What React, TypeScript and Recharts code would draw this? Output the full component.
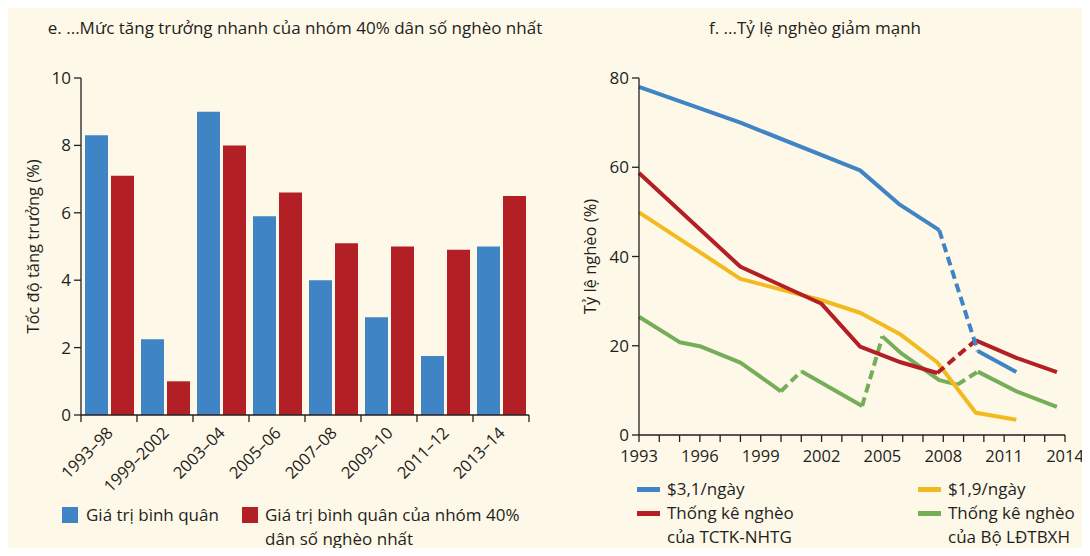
import { BarChart, Bar, XAxis, YAxis, LineChart, Line } from 'recharts'

// --- panel e: growth by period ---
const periods = ['1993–98', '1999–2002', '2003–04', '2005–06', '2007–08', '2009–10', '2011–12', '2013–14']
const avgGrowth = [8.3, 2.25, 9.0, 5.9, 4.0, 2.9, 1.75, 5.0]
const bottom40Growth = [7.1, 1.0, 8.0, 6.6, 5.1, 5.0, 4.9, 6.5]
const growthTicks = [0, 2, 4, 6, 8, 10]

// --- panel f: poverty rate lines, split into solid / dashed pieces ---
const blueA = [{ x: 1993, y: 78 }, { x: 1998, y: 70 }, { x: 2003.9, y: 59.3 }, { x: 2005.8, y: 51.8 }, { x: 2007.8, y: 45.9 }]
const blueGap = [{ x: 2007.8, y: 45.9 }, { x: 2009.7, y: 18.8 }]
const blueB = [{ x: 2009.7, y: 18.8 }, { x: 2011.6, y: 14.1 }]

const redA = [{ x: 1993, y: 58.7 }, { x: 1998, y: 37.7 }, { x: 2002, y: 29.4 }, { x: 2003.9, y: 19.8 }, { x: 2005.9, y: 16.3 }, { x: 2007.7, y: 13.9 }]
const redGap = [{ x: 2007.7, y: 13.9 }, { x: 2009.6, y: 21.2 }]
const redB = [{ x: 2009.6, y: 21.2 }, { x: 2011.6, y: 17.3 }, { x: 2013.6, y: 14.1 }]

const yellowA = [{ x: 1993, y: 49.9 }, { x: 1998, y: 35 }, { x: 2002, y: 30.2 }, { x: 2003.9, y: 27.4 }, { x: 2005.9, y: 22.5 }, { x: 2007.7, y: 16.3 }, { x: 2009.6, y: 5.0 }, { x: 2011.6, y: 3.4 }]

const greenA = [{ x: 1993, y: 26.5 }, { x: 1995, y: 20.8 }, { x: 1996, y: 19.9 }, { x: 1998, y: 16.2 }, { x: 2000, y: 9.8 }]
const greenGap1 = [{ x: 2000, y: 9.8 }, { x: 2001, y: 14.3 }]
const greenB = [{ x: 2001, y: 14.3 }, { x: 2004, y: 6.5 }]
const greenGap2 = [{ x: 2004, y: 6.5 }, { x: 2005, y: 22.1 }]
const greenC = [{ x: 2005, y: 22.1 }, { x: 2005.9, y: 18.4 }, { x: 2007.8, y: 12.3 }, { x: 2008.7, y: 11.3 }]
const greenGap3 = [{ x: 2008.7, y: 11.3 }, { x: 2009.7, y: 14.2 }]
const greenD = [{ x: 2009.7, y: 14.2 }, { x: 2011.6, y: 9.8 }, { x: 2013.6, y: 6.3 }]

const yearTicks = [1993, 1994, 1995, 1996, 1997, 1998, 1999, 2000, 2001, 2002, 2003, 2004, 2005, 2006, 2007, 2008, 2009, 2010, 2011, 2012, 2013, 2014]
const povertyTicks = [0, 20, 40, 60, 80]

const BLUE = '#3f84c5'
const RED = '#b21f25'
const YELLOW = '#f3ba1f'
const GREEN = '#76ad58'
const INK = '#231f20'
const BG = '#fef8e9'
const FONT = '"Open Sans", sans-serif'

const barData = periods.map((p, i) => ({ period: p, avg: avgGrowth[i], b40: bottom40Growth[i] }))

const lineSeries = [
  { name: '$3,1/ngày', color: BLUE },
  { name: '$1,9/ngày', color: YELLOW },
  { name: 'Thống kê nghèo\ncủa TCTK-NHTG', color: RED },
  { name: 'Thống kê nghèo\ncủa Bộ LĐTBXH', color: GREEN },
]

const BAR_PLOT_W = 448
const BAND = BAR_PLOT_W / periods.length

function PeriodTick(props: any) {
  const { x, y, payload, index } = props
  const half = BAND / 2
  const ax = x + 5
  const ay = y + 19
  return (
    <g>
      <line x1={x - half} x2={x - half} y1={y} y2={y + 7} stroke={INK} strokeWidth={1.3} />
      {index === periods.length - 1 && <line x1={x + half} x2={x + half} y1={y} y2={y + 7} stroke={INK} strokeWidth={1.3} />}
      <text x={ax} y={ay} textAnchor="end" fill={INK} fontSize={16.5} fontFamily={FONT} transform={`rotate(-45, ${ax}, ${ay})`}>
        {payload.value}
      </text>
    </g>
  )
}

const axisTick = { fill: INK, fontSize: 17, fontFamily: FONT }

function Swatch({ color, line }: { color: string; line?: boolean }) {
  return line
    ? <span style={{ display: 'inline-block', width: 23, height: 5, background: color, marginTop: 10, flexShrink: 0 }} />
    : <span style={{ display: 'inline-block', width: 16, height: 16, background: color, marginTop: 4, flexShrink: 0 }} />
}

export default function App() {
  const text = { position: 'absolute' as const, fontFamily: FONT, color: INK, fontSize: 17, lineHeight: '23.5px', whiteSpace: 'pre' as const }
  return (
    <div style={{ position: 'relative', width: 1090, height: 556, background: '#fff', margin: -8, overflow: 'hidden' }}>
      <div style={{ position: 'absolute', left: 5, top: 4, right: 0, bottom: 0, background: BG }} />

      <div style={{ ...text, left: 0, width: 590, top: 16, textAlign: 'center' }}>e. ...Mức tăng trưởng nhanh của nhóm 40% dân số nghèo nhất</div>
      <div style={{ ...text, left: 545, width: 540, top: 16, textAlign: 'center' }}>f. ...Tỷ lệ nghèo giảm mạnh</div>

      <div style={{ position: 'absolute', left: 0, top: 0 }}>
        <BarChart width={545} height={556} data={barData} margin={{ top: 78, right: 16, bottom: 71, left: 31 }} barCategoryGap={4} barGap={3}>
          <YAxis
            domain={[0, 10]}
            ticks={growthTicks}
            width={50}
            tick={axisTick}
            tickSize={7}
            tickMargin={3}
            stroke={INK}
            strokeWidth={1.3}
            label={{ value: 'Tốc độ tăng trưởng (%)', angle: -90, position: 'insideLeft', offset: 2, style: { textAnchor: 'middle', fill: INK, fontSize: 16.5, fontFamily: FONT } }}
          />
          <XAxis dataKey="period" height={70} interval={0} tickLine={false} tickSize={0} tickMargin={0} tick={<PeriodTick />} stroke={INK} strokeWidth={1.3} />
          <Bar dataKey="avg" fill={BLUE} isAnimationActive={false} />
          <Bar dataKey="b40" fill={RED} isAnimationActive={false} />
        </BarChart>
      </div>

      <div style={{ position: 'absolute', left: 545, top: 0 }}>
        <LineChart width={545} height={556} margin={{ top: 78, right: 25, bottom: 91, left: 44 }} style={{ overflow: 'visible' }}>
          <XAxis
            dataKey="x"
            type="number"
            domain={[1993, 2014]}
            ticks={yearTicks}
            interval={0}
            tickFormatter={(v: number) => ((v - 1993) % 3 === 0 ? String(v) : '')}
            height={30}
            tick={{ ...axisTick, fontSize: 16.5 }}
            tickSize={7}
            tickMargin={8}
            stroke={INK}
            strokeWidth={1.3}
          />
          <YAxis
            domain={[0, 80]}
            ticks={povertyTicks}
            width={50}
            tick={axisTick}
            tickSize={7}
            tickMargin={3}
            stroke={INK}
            strokeWidth={1.3}
            label={{ value: 'Tỷ lệ nghèo (%)', angle: -90, position: 'insideLeft', offset: 1, style: { textAnchor: 'middle', fill: INK, fontSize: 16.5, fontFamily: FONT } }}
          />
          {[
            { d: greenA, c: GREEN }, { d: greenGap1, c: GREEN, dash: true }, { d: greenB, c: GREEN }, { d: greenGap2, c: GREEN, dash: true },
            { d: greenC, c: GREEN }, { d: greenGap3, c: GREEN, dash: true }, { d: greenD, c: GREEN },
            { d: yellowA, c: YELLOW },
            { d: redA, c: RED }, { d: redGap, c: RED, dash: true }, { d: redB, c: RED },
            { d: blueA, c: BLUE }, { d: blueGap, c: BLUE, dash: true }, { d: blueB, c: BLUE },
          ].map((s, i) => (
            <Line
              key={i}
              data={s.d}
              dataKey="y"
              type="linear"
              stroke={s.c}
              strokeWidth={4}
              strokeDasharray={s.dash ? '9 5' : undefined}
              strokeLinejoin="round"
              dot={false}
              activeDot={false}
              isAnimationActive={false}
            />
          ))}
        </LineChart>
      </div>

      {/* legend e */}
      <div style={{ ...text, left: 62, top: 503, display: 'flex', gap: 8 }}>
        <Swatch color={BLUE} />
        <span>Giá trị bình quân</span>
      </div>
      <div style={{ ...text, left: 242, top: 503, display: 'flex', gap: 7 }}>
        <Swatch color={RED} />
        <span>{'Giá trị bình quân của nhóm 40%\ndân số nghèo nhất'}</span>
      </div>

      {/* legend f */}
      {lineSeries.map((s, i) => (
        <div key={s.name} style={{ ...text, left: i % 2 === 0 ? 637 : 918, top: i < 2 ? 477 : 501, display: 'flex', gap: 7 }}>
          <Swatch color={s.color} line />
          <span>{s.name}</span>
        </div>
      ))}
    </div>
  )
}
